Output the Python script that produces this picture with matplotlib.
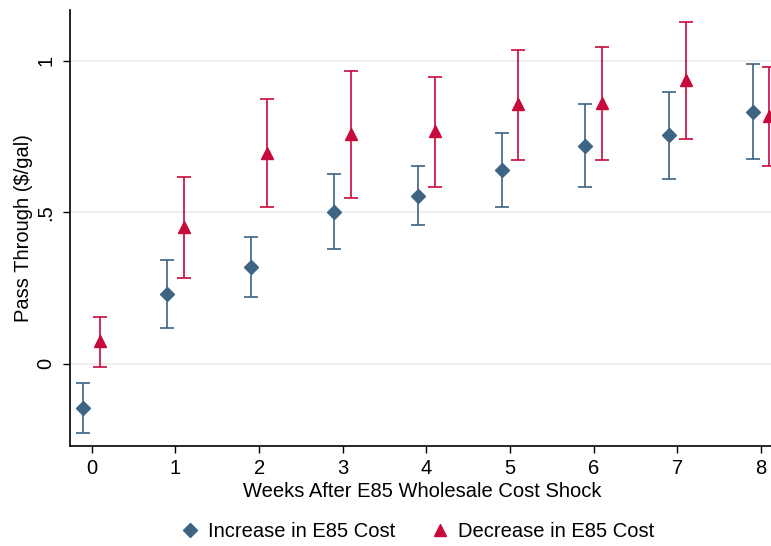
import matplotlib
matplotlib.use("Agg")
import matplotlib.pyplot as plt
from matplotlib.lines import Line2D
import numpy as np

plt.rcParams['font.family'] = ['Liberation Sans', 'DejaVu Sans']

weeks = [0, 1, 2, 3, 4, 5, 6, 7, 8]
inc_est = [-0.146, 0.230, 0.319, 0.500, 0.554, 0.641, 0.719, 0.754, 0.831]
inc_lo = [-0.229, 0.118, 0.220, 0.380, 0.458, 0.519, 0.582, 0.611, 0.676]
inc_hi = [-0.062, 0.343, 0.418, 0.625, 0.652, 0.763, 0.857, 0.898, 0.988]
dec_est = [0.077, 0.453, 0.695, 0.759, 0.767, 0.858, 0.860, 0.936, 0.818]
dec_lo = [-0.009, 0.285, 0.517, 0.548, 0.584, 0.673, 0.673, 0.742, 0.654]
dec_hi = [0.156, 0.618, 0.874, 0.967, 0.945, 1.037, 1.044, 1.128, 0.981]

blue = '#3D6482'
red = '#C8093B'
fs = 14.5

fig = plt.figure(figsize=(7.71, 5.46), dpi=100)
ax = fig.add_axes([0.0912, 0.183, 0.912, 0.799])

w = np.array(weeks, dtype=float)
ie = np.array(inc_est); de = np.array(dec_est)
ax.errorbar(w - 0.1, ie, yerr=[ie - np.array(inc_lo), np.array(inc_hi) - ie],
            fmt='D', color=blue, ecolor=blue, markersize=7.5, capsize=5,
            elinewidth=1.2, capthick=1.2, zorder=3)
ax.errorbar(w + 0.1, de, yerr=[de - np.array(dec_lo), np.array(dec_hi) - de],
            fmt='^', color=red, ecolor=red, markersize=9, capsize=5,
            elinewidth=1.2, capthick=1.2, zorder=3)

ax.set_xlim(-0.257, 8.15)
ax.set_ylim(-0.271, 1.168)
ax.set_xticks(weeks)
ax.set_xticklabels([str(x) for x in weeks])
ax.set_yticks([0, 0.5, 1])
ax.set_yticklabels(['0', '.5', '1'], rotation=90, va='center')
ax.tick_params(axis='both', labelsize=fs, length=5, width=1, color='black')
ax.tick_params(axis='y', pad=6)
ax.tick_params(axis='x', pad=4)
ax.yaxis.grid(True, color='#EBEBEB', linewidth=1.2)
ax.set_axisbelow(True)
for s in ['top', 'right']:
    ax.spines[s].set_visible(False)
for s in ['left', 'bottom']:
    ax.spines[s].set_linewidth(1.2)

ax.set_xlabel('Weeks After E85 Wholesale Cost Shock', fontsize=fs, labelpad=3)
ax.set_ylabel('Pass Through ($/gal)', fontsize=fs, labelpad=2)

handles = [Line2D([], [], marker='D', color=blue, linestyle='none', markersize=7.5),
           Line2D([], [], marker='^', color=red, linestyle='none', markersize=9)]
fig.legend(handles, ['Increase in E85 Cost', 'Decrease in E85 Cost'],
           loc='center', bbox_to_anchor=(0.54, 0.026), ncol=2, frameon=False,
           fontsize=fs, handletextpad=0.3, columnspacing=1.6, handlelength=1.2)

fig.savefig('out.png', dpi=100)
